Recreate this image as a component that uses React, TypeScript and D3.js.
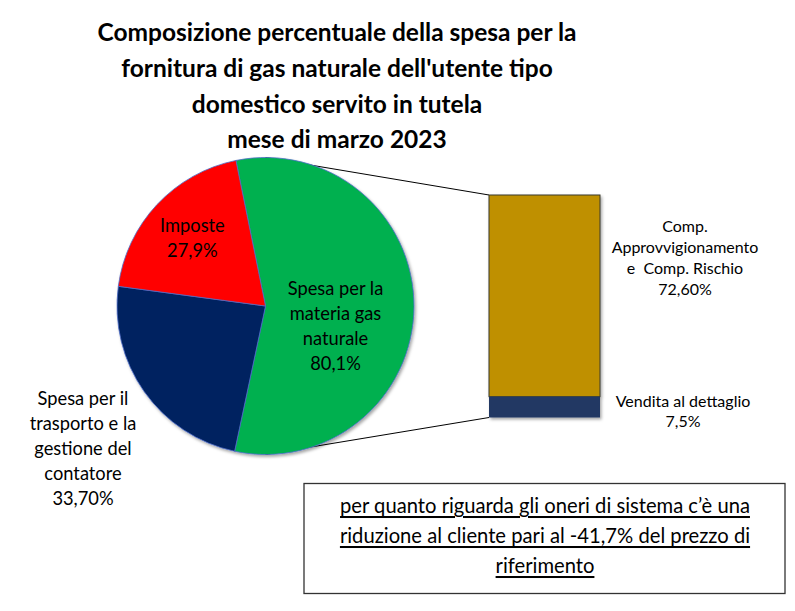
import * as d3 from "d3";

const TITLE = [
  "Composizione percentuale della spesa per la",
  "fornitura di gas naturale dell'utente tipo",
  "domestico servito in tutela",
  "mese di marzo 2023",
];

const PIE_NAMES = [
  ["Spesa per la", "materia gas", "naturale"],
  ["Spesa per il", "trasporto e la", "gestione del", "contatore"],
  ["Imposte"],
];
const PIE_VALUES = [80.1, 33.7, 27.9];
const PIE_VALUE_LABELS = ["80,1%", "33,70%", "27,9%"];
const PIE_COLORS = ["#00b050", "#002060", "#ff0000"];

const BAR_NAMES = [["Comp.", "Approvvigionamento", "e  Comp. Rischio"], ["Vendita al dettaglio"]];
const BAR_VALUES = [72.6, 7.5];
const BAR_VALUE_LABELS = ["72,60%", "7,5%"];
const BAR_COLORS = ["#bf9000", "#203864"];

const NOTE = [
  "per quanto riguarda gli oneri di sistema c\u2019è una",
  "riduzione al cliente pari al -41,7% del prezzo di",
  "riferimento",
];

const FONT = "Lato, 'Open Sans', sans-serif";
const W = 795;
const H = 611;
const CX = 265.5;
const CY = 306;
const R = 148.5;
const START = (-11.5 * Math.PI) / 180;

const BAR = { x: 489, w: 111, top: 195, bottom: 417.5 };

export default function App() {
  const pie = d3
    .pie<number>()
    .sort(null)
    .startAngle(START)
    .endAngle(START + 2 * Math.PI);
  const arcs = pie(PIE_VALUES);
  const arc = d3.arc<d3.PieArcDatum<number>>().innerRadius(0).outerRadius(R);

  // stacked from the top down
  const y = d3
    .scaleLinear()
    .domain([0, d3.sum(BAR_VALUES)])
    .range([BAR.top, BAR.bottom]);
  let acc = 0;
  const stacks = BAR_VALUES.map((v) => {
    const s = { y0: y(acc), y1: y(acc + v) };
    acc += v;
    return s;
  });

  // label anchor per slice (inside for green/red, outside for blue)
  const labelPos = arcs.map((a, i) => {
    const mid = (a.startAngle + a.endAngle) / 2;
    const rr = i === 0 ? 70 : i === 2 ? 100 : 0;
    if (i === 1) return [83, 448];
    return [CX + rr * Math.sin(mid), CY - rr * Math.cos(mid) + (i === 0 ? 19 : 0)];
  });

  const lh = 24.8;

  return (
    <svg width={W} height={H} style={{ position: "absolute", left: 0, top: 0 }} fontFamily={FONT}>
      <defs>
        <filter id="sh" x="-20%" y="-20%" width="140%" height="140%">
          <feDropShadow dx="1.5" dy="2" stdDeviation="1.5" floodColor="#000" floodOpacity="0.35" />
        </filter>
      </defs>
      <rect width={W} height={H} fill="#fff" />

      {TITLE.map((t, i) => (
        <text
          key={i}
          x={337}
          y={31.7 + i * 35.7}
          textAnchor="middle"
          dominantBaseline="central"
          fontWeight="bold"
          fontSize={24.5}
          fill="#000"
        >
          {t}
        </text>
      ))}

      {/* connector lines */}
      <line x1={CX} y1={CY - R} x2={BAR.x} y2={BAR.top} stroke="#000" strokeWidth={1} />
      <line x1={CX} y1={CY + R} x2={BAR.x} y2={BAR.bottom} stroke="#000" strokeWidth={1} />

      <g transform={`translate(${CX},${CY})`} filter="url(#sh)">
        {arcs.map((a, i) => (
          <path key={i} d={arc(a) ?? ""} fill={PIE_COLORS[i]} stroke="#4f6fc8" strokeWidth={0.8} />
        ))}
      </g>

      {arcs.map((_, i) => {
        const lines = [...PIE_NAMES[i], PIE_VALUE_LABELS[i]];
        const [lx, ly] = labelPos[i];
        const y0 = ly - ((lines.length - 1) * lh) / 2;
        return (
          <g key={i}>
            {lines.map((t, j) => (
              <text
                key={j}
                x={lx}
                y={y0 + j * lh}
                textAnchor="middle"
                dominantBaseline="central"
                fontSize={18.3}
                fill="#000"
              >
                {t}
              </text>
            ))}
          </g>
        );
      })}

      <g filter="url(#sh)">
        {stacks.map((s, i) => (
          <rect
            key={i}
            x={BAR.x}
            y={s.y0}
            width={BAR.w}
            height={s.y1 - s.y0}
            fill={BAR_COLORS[i]}
            stroke={i === 0 ? "#3a3a2a" : "none"}
            strokeWidth={1}
          />
        ))}
      </g>

      {/* bar labels */}
      {[...BAR_NAMES[0], BAR_VALUE_LABELS[0]].map((t, j) => (
        <text
          key={j}
          x={685}
          y={225 + j * 21.3}
          textAnchor="middle"
          dominantBaseline="central"
          fontSize={16}
          fill="#000"
          style={{ whiteSpace: "pre" }}
        >
          {t}
        </text>
      ))}
      {[...BAR_NAMES[1], BAR_VALUE_LABELS[1]].map((t, j) => (
        <text key={j} x={683} y={400 + j * 20.7} textAnchor="middle" dominantBaseline="central" fontSize={16} fill="#000">
          {t}
        </text>
      ))}

      <rect x={304} y={483.5} width={481} height={110} fill="#fff" stroke="#333" strokeWidth={1.3} />
      {NOTE.map((t, i) => (
        <text
          key={i}
          x={545}
          y={505 + i * 30}
          textAnchor="middle"
          dominantBaseline="central"
          fontSize={20.2}
          textDecoration="underline"
          fill="#000"
        >
          {t}
        </text>
      ))}
    </svg>
  );
}
